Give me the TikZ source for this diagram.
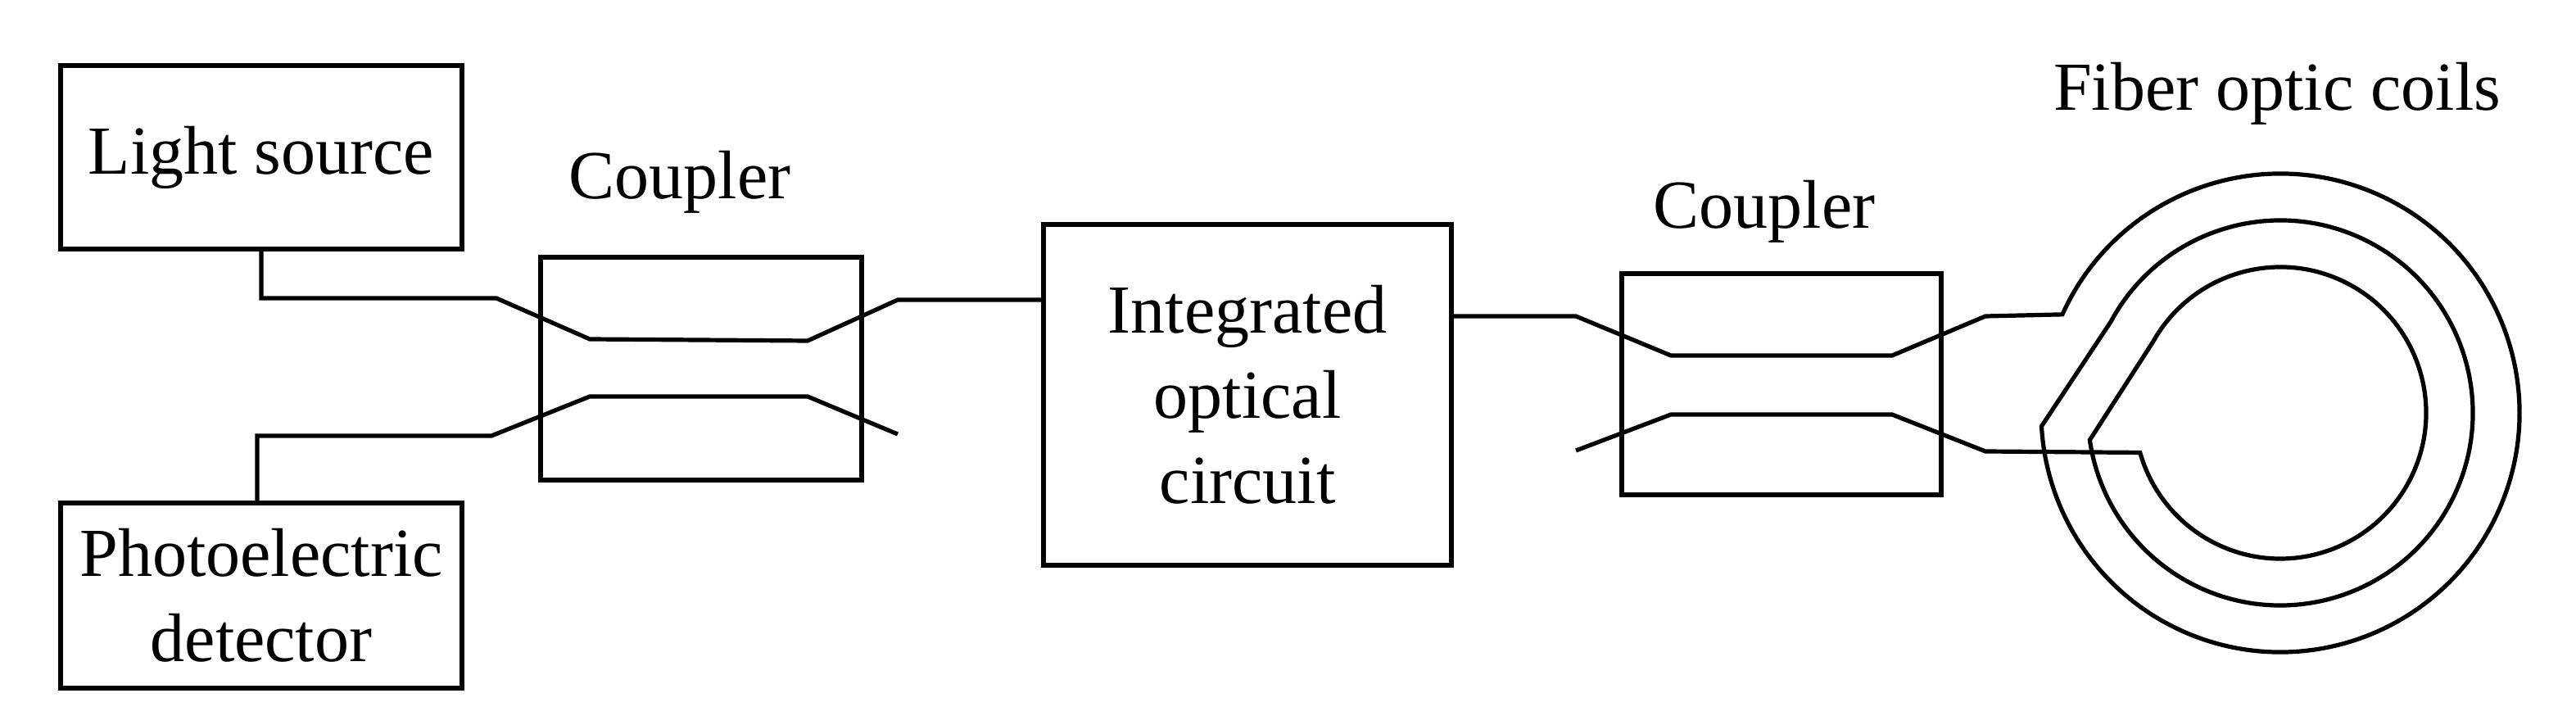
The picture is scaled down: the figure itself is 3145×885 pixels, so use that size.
\documentclass[tikz,border=0pt]{standalone}
\usepackage{fontspec}
\setmainfont{Liberation Serif}
\usetikzlibrary{calc}
\tikzset{every picture/.style={line width=1.3pt}}
\tikzset{box/.style={draw, align=center, inner sep=0pt, font=\fontsize{21}{26}\selectfont}}
\begin{document}
\begin{tikzpicture}[x=0.25pt,y=0.25pt,yscale=-1,xscale=1]
\useasboundingbox (0,0) rectangle (3145,885);

%Boxes
\node [box, minimum width=122.5pt, minimum height=56pt] (ls) at (319,192) {Light source};
\node [box, minimum width=122.5pt, minimum height=56.5pt] (pd) at (319,727) {Photoelectric\\detector};
\node [box, minimum width=98pt, minimum height=68pt] (cp1) at (856,450) {};
\node [box, minimum width=124.5pt, minimum height=104pt] (ioc) at (1523,482) {Integrated\\optical\\circuit};
\node [box, minimum width=97.5pt, minimum height=67.5pt] (cp2) at (2175,469) {};
\coordinate (coil) at (2784,504);

% Text Node
\node [font=\fontsize{21}{26}\selectfont] (cl1) at (830,222) {Coupler};
\node [font=\fontsize{21}{26}\selectfont] (cl2) at (2154,258) {Coupler};
\node [font=\fontsize{21}{26}\selectfont] (fl) at (2780,114) {Fiber optic coils};

%Fibers through first coupler
\draw (ls.south) |- (606,364) -- (720,414) -- (986,416) -- (1096,366) -- (ioc.west |- 0,366);
\draw ([xshift=-1.25pt]pd.north) |- (600,532) -- (720,484) -- (986,484) -- (1096,530);

%Fibers through second coupler and coil
\draw (ioc.east |- 0,386) -- (1924,386) -- (2040,434) -- (2310,434) -- (2424,386)
  -- ($(coil)+(204.3:73pt)$) arc[start angle=204.3, end angle=536.8, radius=73pt]
  -- ($(coil)+(208.3:58.75pt)$) arc[start angle=208.3, end angle=531.9, radius=58.75pt]
  -- ($(coil)+(209.3:44.5pt)$) arc[start angle=209.3, end angle=524.2, radius=44.5pt]
  -- (2424,551) -- (2310,506) -- (2040,506) -- (1924,550);

\end{tikzpicture}
\end{document}
